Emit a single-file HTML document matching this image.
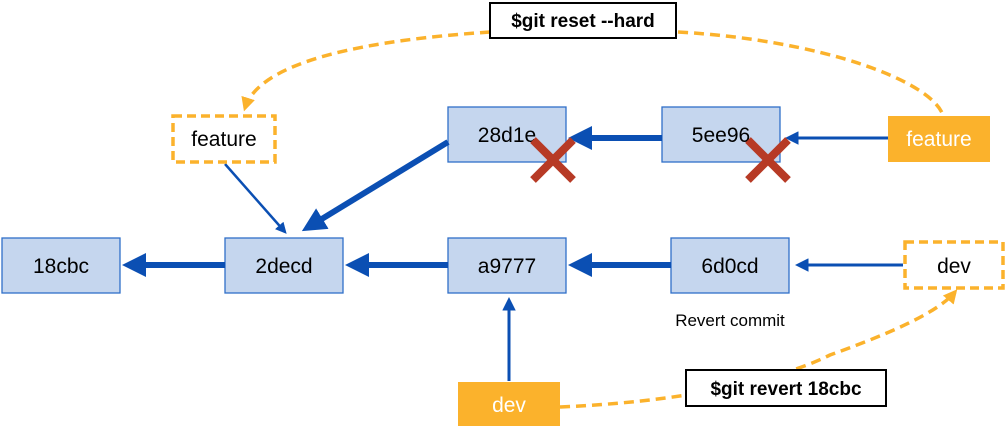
<!DOCTYPE html>
<html><head><meta charset="utf-8"><style>
body{margin:0;background:#fff}
svg text{font-family:"Liberation Sans",sans-serif}
</style></head><body>
<svg width="1006" height="428" xmlns="http://www.w3.org/2000/svg">
<defs>
<marker id="ab" markerWidth="4" markerHeight="4" refX="3" refY="2" orient="auto" markerUnits="strokeWidth"><path d="M0,0 L4,2 L0,4z" fill="#0b4fb3"/></marker>
<marker id="ab2" markerWidth="4.5" markerHeight="4.5" refX="3.5" refY="2.25" orient="auto" markerUnits="strokeWidth"><path d="M0,0 L4.5,2.25 L0,4.5z" fill="#0b4fb3"/></marker>
<marker id="ao" markerWidth="4" markerHeight="4" refX="3" refY="2" orient="auto" markerUnits="strokeWidth"><path d="M0,0 L4,2 L0,4z" fill="#fbb22c"/></marker>
</defs>
<g fill="#c5d6ee" stroke="#2f6fc8" stroke-width="1.3">
<rect x="2" y="238" width="118" height="55"/>
<rect x="225" y="238" width="118" height="55"/>
<rect x="448" y="238" width="118" height="55"/>
<rect x="671" y="238" width="118" height="55"/>
<rect x="448" y="107" width="118" height="55"/>
<rect x="662" y="107" width="118" height="55"/>
</g>
<g font-size="21" text-anchor="middle" fill="#000">
<text x="61" y="273">18cbc</text>
<text x="284" y="273">2decd</text>
<text x="507" y="273">a9777</text>
<text x="730" y="273">6d0cd</text>
<text x="507" y="142">28d1e</text>
<text x="721" y="142">5ee96</text>
</g>
<g stroke="#0b4fb3" fill="none">
<line x1="225" y1="265" x2="128" y2="265" stroke-width="6" marker-end="url(#ab)"/>
<line x1="448" y1="265" x2="351" y2="265" stroke-width="6" marker-end="url(#ab)"/>
<line x1="671" y1="265" x2="574" y2="265" stroke-width="6" marker-end="url(#ab)"/>
<line x1="662" y1="138" x2="574" y2="138" stroke-width="6" marker-end="url(#ab)"/>
<line x1="448" y1="142" x2="307" y2="228" stroke-width="6" marker-end="url(#ab)"/>
<line x1="903" y1="265" x2="798" y2="265" stroke-width="3" marker-end="url(#ab2)"/>
<line x1="888" y1="138" x2="788" y2="138" stroke-width="3" marker-end="url(#ab2)"/>
<line x1="225" y1="164" x2="285" y2="232" stroke-width="2.5" marker-end="url(#ab2)"/>
<line x1="509" y1="381" x2="509" y2="300" stroke-width="3" marker-end="url(#ab2)"/>
</g>
<g stroke="#b73a25" stroke-width="8">
<line x1="533" y1="140" x2="573" y2="180"/><line x1="573" y1="140" x2="533" y2="180"/>
<line x1="748" y1="140" x2="788" y2="180"/><line x1="788" y1="140" x2="748" y2="180"/>
</g>
<rect x="888" y="116" width="102" height="46" fill="#fbb22c"/>
<text x="939" y="146" font-size="21" fill="#fff" text-anchor="middle">feature</text>
<rect x="458" y="382" width="102" height="44" fill="#fbb22c"/>
<text x="509" y="412" font-size="21" fill="#fff" text-anchor="middle">dev</text>
<rect x="173" y="116" width="102" height="46" fill="#fff" stroke="#fbb22c" stroke-width="3.5" stroke-dasharray="9,5"/>
<text x="224" y="146" font-size="21" text-anchor="middle">feature</text>
<rect x="905" y="242" width="98" height="46" fill="#fff" stroke="#fbb22c" stroke-width="3.5" stroke-dasharray="9,5"/>
<text x="954" y="273" font-size="21" text-anchor="middle">dev</text>
<g stroke="#fbb22c" stroke-width="3.5" stroke-dasharray="10,6" fill="none">
<path d="M490,32 C370,40 260,60 245,108" marker-end="url(#ao)"/>
<path d="M678,32 C820,40 930,80 943,115"/>
<path d="M560,407 C720,400 800,370 830,355 C900,330 940,310 955,292" marker-end="url(#ao)"/>
</g>
<rect x="490" y="3" width="186" height="35" fill="#fff" stroke="#000" stroke-width="2"/>
<text x="583" y="27" font-size="19" font-weight="bold" text-anchor="middle">$git reset --hard</text>
<rect x="686" y="370" width="200" height="36" fill="#fff" stroke="#000" stroke-width="2"/>
<text x="786" y="395" font-size="19" font-weight="bold" text-anchor="middle">$git revert 18cbc</text>
<text x="730" y="326" font-size="17" text-anchor="middle">Revert commit</text>
</svg>
</body></html>
